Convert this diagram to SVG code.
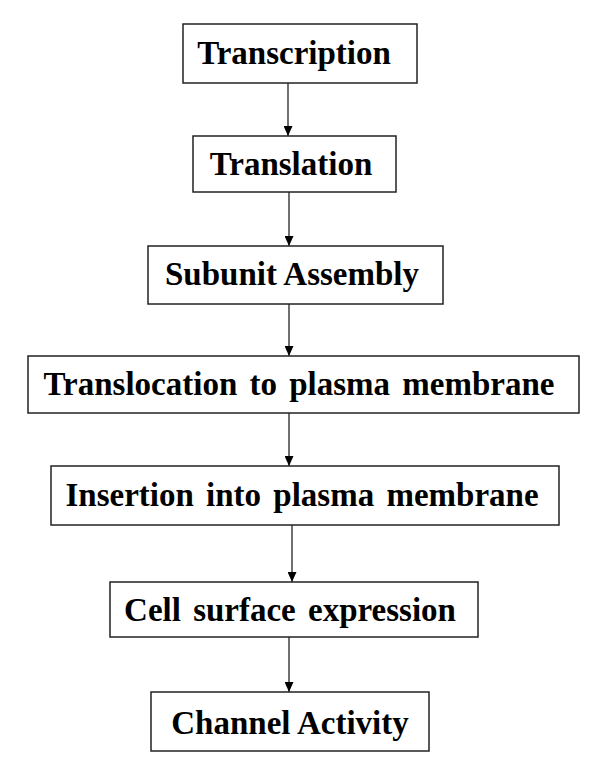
<svg xmlns="http://www.w3.org/2000/svg" width="600" height="776" viewBox="0 0 600 776">
  <style>
    .box { fill: #ffffff; stroke: #222222; stroke-width: 1.5; }
    .lbl { font-family: "Liberation Serif", "Times New Roman", serif; font-weight: bold; font-size: 33px; fill: #000000; text-anchor: middle; }
    .conn { stroke: #111111; stroke-width: 1.2; fill: none; marker-end: url(#arr); }
  </style>
  <defs>
    <marker id="arr" markerWidth="10" markerHeight="9" refX="10" refY="4.5" orient="auto" markerUnits="userSpaceOnUse" viewBox="0 0 10 9">
      <path d="M0,0 L10,4.5 L0,9 Z" fill="#000000"/>
    </marker>
  </defs>
  <rect width="600" height="776" fill="#ffffff"/>
  <g id="connectors">
    <line class="conn" x1="288" y1="83" x2="288" y2="136"/>
    <line class="conn" x1="289" y1="192" x2="289" y2="246"/>
    <line class="conn" x1="289" y1="304" x2="289" y2="356"/>
    <line class="conn" x1="289" y1="413" x2="289" y2="466"/>
    <line class="conn" x1="292" y1="525" x2="292" y2="582"/>
    <line class="conn" x1="289" y1="637" x2="289" y2="692"/>
  </g>
  <g id="n1"><rect class="box" x="183" y="24" width="234" height="59"/><text class="lbl" x="294" y="64">Transcription</text></g>
  <g id="n2"><rect class="box" x="193" y="136" width="203" height="56"/><text class="lbl" x="291" y="175">Translation</text></g>
  <g id="n3"><rect class="box" x="148" y="246" width="295" height="58"/><text class="lbl" x="292" y="285">Subunit Assembly</text></g>
  <g id="n4"><rect class="box" x="28" y="356" width="551" height="57"/><text class="lbl" x="299" y="395" word-spacing="4">Translocation to plasma membrane</text></g>
  <g id="n5"><rect class="box" x="51" y="466" width="508" height="59"/><text class="lbl" x="302" y="506" word-spacing="4">Insertion into plasma membrane</text></g>
  <g id="n6"><rect class="box" x="110" y="582" width="368" height="55"/><text class="lbl" x="290" y="621" word-spacing="4">Cell surface expression</text></g>
  <g id="n7"><rect class="box" x="151" y="692" width="278" height="59"/><text class="lbl" x="290" y="734">Channel Activity</text></g>
</svg>
